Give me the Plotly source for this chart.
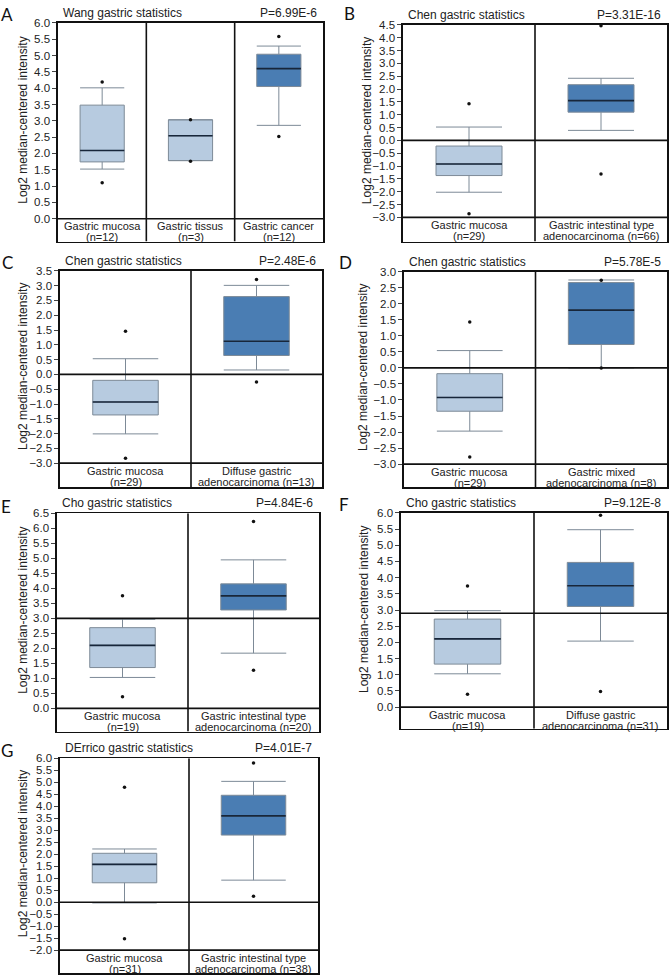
import plotly.graph_objects as go

W, H = 669, 976
FONT = "Liberation Sans, Arial, sans-serif"

# ---------------- data ----------------
# Panel A - Wang
A_cats = ["Gastric mucosa", "Gastric tissus", "Gastric cancer"]
A_n = ["(n=12)", "(n=3)", "(n=12)"]
A_low = [1.52, 1.78, 2.86]
A_q1 = [1.74, 1.78, 4.05]
A_med = [2.09, 2.54, 4.60]
A_q3 = [3.48, 3.03, 5.04]
A_high = [4.01, 3.03, 5.29]
A_pts = [[4.19, 1.10], [3.03, 1.76], [5.58, 2.52]]

# Panel B - Chen, intestinal type
B_cats = ["Gastric mucosa", "Gastric intestinal type"]
B_n = ["(n=29)", "adenocarcinoma (n=66)"]
B_low = [-2.02, 0.39]
B_q1 = [-1.37, 1.10]
B_med = [-0.92, 1.55]
B_q3 = [-0.22, 2.17]
B_high = [0.52, 2.42]
B_pts = [[1.43, -2.86], [4.47, -1.31]]

# Panel C - Chen, diffuse
C_cats = ["Gastric mucosa", "Diffuse gastric"]
C_n = ["(n=29)", "adenocarcinoma (n=13)"]
C_low = [-2.01, 0.15]
C_q1 = [-1.37, 0.64]
C_med = [-0.93, 1.12]
C_q3 = [-0.20, 2.63]
C_high = [0.53, 3.01]
C_pts = [[1.46, -2.83], [3.21, -0.26]]

# Panel D - Chen, mixed
D_cats = ["Gastric mucosa", "Gastric mixed"]
D_n = ["(n=29)", "adenocarcinoma (n=8)"]
D_low = [-1.97, 0.00]
D_q1 = [-1.35, 0.73]
D_med = [-0.92, 1.80]
D_q3 = [-0.18, 2.66]
D_high = [0.54, 2.74]
D_pts = [[1.43, -2.78], [2.73, 0.00]]

# Panel E - Cho, intestinal type
E_cats = ["Gastric mucosa", "Gastric intestinal type"]
E_n = ["(n=19)", "adenocarcinoma (n=20)"]
E_low = [1.03, 1.84]
E_q1 = [1.36, 3.28]
E_med = [2.10, 3.75]
E_q3 = [2.69, 4.15]
E_high = [2.97, 4.95]
E_pts = [[3.75, 0.39], [6.23, 1.27]]

# Panel F - Cho, diffuse
F_cats = ["Gastric mucosa", "Diffuse gastric"]
F_n = ["(n=19)", "adenocarcinoma (n=31)"]
F_low = [1.03, 2.04]
F_q1 = [1.33, 3.11]
F_med = [2.11, 3.75]
F_q3 = [2.72, 4.47]
F_high = [2.98, 5.48]
F_pts = [[3.74, 0.40], [5.93, 0.48]]

# Panel G - DErrico
G_cats = ["Gastric mucosa", "Gastric intestinal type"]
G_n = ["(n=31)", "adenocarcinoma (n=38)"]
G_low = [-0.03, 0.92]
G_q1 = [0.81, 2.80]
G_med = [1.58, 3.60]
G_q3 = [2.04, 4.46]
G_high = [2.22, 5.04]
G_pts = [[4.79, -1.52], [5.81, 0.25]]

# ---------------- layout config (pixels) ----------------
panels = [
    dict(letter="A", title="Wang gastric statistics", p="P=6.99E-6",
         cats=A_cats, n=A_n, low=A_low, q1=A_q1, med=A_med, q3=A_q3, high=A_high, pts=A_pts,
         frame=(58, 323, 17, 237), ticks=(0.0, 6.0), tickbot_px=214, ref=None,
         letter_xy=(7, 9), ytitle_x=23),
    dict(letter="B", title="Chen gastric statistics", p="P=3.31E-16",
         cats=B_cats, n=B_n, low=B_low, q1=B_q1, med=B_med, q3=B_q3, high=B_high, pts=B_pts,
         frame=(403, 667, 19, 237), ticks=(-3.0, 4.5), tickbot_px=212.7, ref=0.0,
         letter_xy=(349, 8), ytitle_x=367),
    dict(letter="C", title="Chen gastric statistics", p="P=2.48E-6",
         cats=C_cats, n=C_n, low=C_low, q1=C_q1, med=C_med, q3=C_q3, high=C_high, pts=C_pts,
         frame=(60, 322, 266.5, 484), ticks=(-3.0, 3.5), tickbot_px=460, ref=0.0,
         letter_xy=(7, 258), ytitle_x=23),
    dict(letter="D", title="Chen gastric statistics", p="P=5.78E-5",
         cats=D_cats, n=D_n, low=D_low, q1=D_q1, med=D_med, q3=D_q3, high=D_high, pts=D_pts,
         frame=(404, 667, 267.3, 484.3), ticks=(-3.0, 3.0), tickbot_px=461, ref=0.0,
         letter_xy=(345, 258), ytitle_x=363),
    dict(letter="E", title="Cho gastric statistics", p="P=4.84E-6",
         cats=E_cats, n=E_n, low=E_low, q1=E_q1, med=E_med, q3=E_q3, high=E_high, pts=E_pts,
         frame=(57, 319, 510.5, 730), ticks=(0.0, 6.5), tickbot_px=706.7, ref=3.0,
         letter_xy=(6, 504), ytitle_x=23),
    dict(letter="F", title="Cho gastric statistics", p="P=9.12E-8",
         cats=F_cats, n=F_n, low=F_low, q1=F_q1, med=F_med, q3=F_q3, high=F_high, pts=F_pts,
         frame=(401, 667, 510, 727.3), ticks=(0.0, 6.0), tickbot_px=705.5, ref=2.9,
         letter_xy=(344, 502), ytitle_x=364),
    dict(letter="G", title="DErrico gastric statistics", p="P=4.01E-7",
         cats=G_cats, n=G_n, low=G_low, q1=G_q1, med=G_med, q3=G_q3, high=G_high, pts=G_pts,
         frame=(60, 318, 757, 973.3), ticks=(-2.0, 6.0), tickbot_px=950, ref=0.0,
         letter_xy=(7, 749), ytitle_x=23),
]

LIGHT = "#b7cbe0"
DARK = "#4a7db3"
BOX_LINE = "#7d8a97"
MED_COL = "#17263a"
BOX_W = 0.5

fig = go.Figure()
shapes = []
annotations = []
layout_axes = {}

for k, P in enumerate(panels):
    idx = "" if k == 0 else str(k + 1)
    xa, ya = "x" + idx, "y" + idx
    left, right, top, bottom = P["frame"]
    tmin, tmax = P["ticks"]
    unit = (P["tickbot_px"] - top) / (tmax - tmin)
    rmin = tmin - (bottom - P["tickbot_px"]) / unit
    ncat = len(P["cats"])

    nsteps = int(round((tmax - tmin) / 0.5))
    tickvals = [round(tmin + 0.5 * i, 1) for i in range(nsteps + 1)]
    ticktext = [("%.1f" % (v if v != 0 else 0.0)).replace("-", "\u2212") for v in tickvals]

    layout_axes["xaxis" + idx] = dict(
        domain=[left / W, right / W], anchor=ya, range=[-0.5, ncat - 0.5],
        showline=True, mirror=True, linecolor="#111", linewidth=1.6,
        showgrid=False, zeroline=False, showticklabels=False, ticks="", fixedrange=True)
    layout_axes["yaxis" + idx] = dict(
        domain=[1 - bottom / H, 1 - top / H], anchor=xa, range=[rmin, tmax],
        showline=True, mirror=True, linecolor="#111", linewidth=1.6,
        showgrid=False, zeroline=False, ticks="outside", ticklen=4, tickwidth=1,
        tickcolor="#444", tickvals=tickvals, ticktext=ticktext,
        tickfont=dict(family=FONT, size=11.5, color="#222"), fixedrange=True)

    for i in range(ncat):
        fill = DARK if i == ncat - 1 else LIGHT
        fig.add_trace(go.Box(
            x=[i], q1=[P["q1"][i]], median=[P["med"][i]], q3=[P["q3"][i]],
            lowerfence=[P["low"][i]], upperfence=[P["high"][i]],
            width=BOX_W, whiskerwidth=1, fillcolor=fill,
            line=dict(color=BOX_LINE, width=1), boxpoints=False,
            xaxis=xa, yaxis=ya, showlegend=False, hoverinfo="skip"))
        fig.add_trace(go.Scatter(
            x=[i - BOX_W / 2, i + BOX_W / 2], y=[P["med"][i], P["med"][i]],
            mode="lines", line=dict(color=MED_COL, width=1.6),
            xaxis=xa, yaxis=ya, showlegend=False, hoverinfo="skip"))
        fig.add_trace(go.Scatter(
            x=[i] * len(P["pts"][i]), y=P["pts"][i], mode="markers",
            marker=dict(color="#111", size=3.5),
            xaxis=xa, yaxis=ya, showlegend=False, hoverinfo="skip", cliponaxis=False))

        # category labels (two lines)
        annotations.append(dict(xref=xa, yref=ya, x=i, y=tmin, yshift=-7.5,
                                text=P["cats"][i], showarrow=False, yanchor="middle",
                                font=dict(family=FONT, size=11, color="#222")))
        annotations.append(dict(xref=xa, yref=ya, x=i, y=tmin, yshift=-18.5,
                                text=P["n"][i], showarrow=False, yanchor="middle",
                                font=dict(family=FONT, size=11, color="#222")))

    # column dividers
    for j in range(ncat - 1):
        shapes.append(dict(type="line", xref=xa, yref=ya, x0=j + 0.5, x1=j + 0.5,
                           y0=rmin, y1=tmax, line=dict(color="#111", width=1.6), layer="above"))
    # label-row separator
    shapes.append(dict(type="line", xref=xa, yref=ya, x0=-0.5, x1=ncat - 0.5,
                       y0=tmin, y1=tmin, line=dict(color="#111", width=1.6), layer="above"))
    if P["ref"] is not None:
        shapes.append(dict(type="line", xref=xa, yref=ya, x0=-0.5, x1=ncat - 0.5,
                           y0=P["ref"], y1=P["ref"], line=dict(color="#111", width=1.6),
                           layer="above"))

    # title & p-value
    annotations.append(dict(xref=xa + " domain", yref=ya + " domain", x=0, y=1,
                            xshift=3, yshift=10, xanchor="left", yanchor="middle",
                            text=P["title"], showarrow=False,
                            font=dict(family=FONT, size=12, color="#222")))
    annotations.append(dict(xref=xa + " domain", yref=ya + " domain", x=1, y=1,
                            xshift=-4, yshift=10, xanchor="right", yanchor="middle",
                            text=P["p"], showarrow=False,
                            font=dict(family=FONT, size=12, color="#222")))
    # y-axis title
    ymid_px = (top + P["tickbot_px"]) / 2
    annotations.append(dict(xref="paper", yref="paper", x=P["ytitle_x"] / W,
                            y=1 - ymid_px / H, textangle=-90, xanchor="center",
                            yanchor="middle", text="Log2 median-centered intensity",
                            showarrow=False, font=dict(family=FONT, size=12, color="#222")))
    # panel letter
    lx, ly = P["letter_xy"]
    annotations.append(dict(xref="paper", yref="paper", x=lx / W, y=1 - ly / H,
                            xanchor="center", yanchor="middle", text=P["letter"],
                            showarrow=False, font=dict(family="Lato, " + FONT, size=17, color="#111")))

fig.update_layout(
    width=W, height=H, margin=dict(l=0, r=0, t=0, b=0),
    paper_bgcolor="white", plot_bgcolor="white",
    shapes=shapes, annotations=annotations, boxmode="overlay",
    **layout_axes)

fig.write_html("out.html", config={"displayModeBar": False, "staticPlot": True})

# remove default browser page margin so the figure sits at the window origin
with open("out.html", "r", encoding="utf-8") as fh:
    html = fh.read()
html = html.replace("<head>", "<head><style>html,body{margin:0;padding:0;overflow:hidden;}</style>", 1)
with open("out.html", "w", encoding="utf-8") as fh:
    fh.write(html)
